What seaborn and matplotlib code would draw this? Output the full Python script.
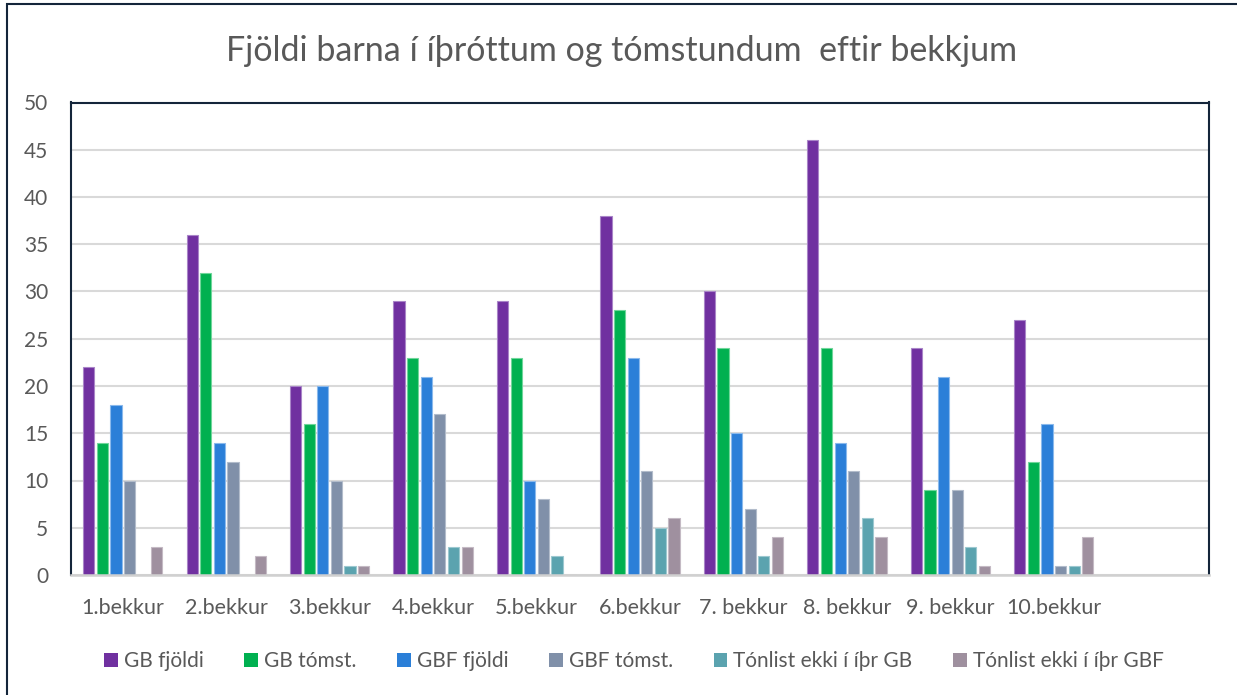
import matplotlib
matplotlib.use("Agg")
import matplotlib.pyplot as plt
import seaborn as sns
import pandas as pd
from matplotlib.patches import Rectangle

categories = ["1.bekkur", "2.bekkur", "3.bekkur", "4.bekkur", "5.bekkur",
              "6.bekkur", "7. bekkur", "8. bekkur", "9. bekkur", "10.bekkur"]
series_names = ["GB fjöldi", "GB tómst.", "GBF fjöldi", "GBF tómst.",
                "Tónlist ekki í íþr GB", "Tónlist ekki í íþr GBF"]
gb_fjoldi = [22, 36, 20, 29, 29, 38, 30, 46, 24, 27]
gb_tomst = [14, 32, 16, 23, 23, 28, 24, 24, 9, 12]
gbf_fjoldi = [18, 14, 20, 21, 10, 23, 15, 14, 21, 16]
gbf_tomst = [10, 12, 10, 17, 8, 11, 7, 11, 9, 1]
tonlist_gb = [0, 0, 1, 3, 2, 5, 2, 6, 3, 1]
tonlist_gbf = [3, 2, 1, 3, 0, 6, 4, 4, 1, 4]
yticks = [0, 5, 10, 15, 20, 25, 30, 35, 40, 45, 50]

colors = ["#7030A0", "#00B050", "#2B7FD8", "#8090A9", "#5BA3AF", "#9F909F"]
edge_colors = ["#A985C8", "#6FD69A", "#8AB9EC", "#B2BCCB", "#9CC8D0", "#C4BAC4"]

all_series = [gb_fjoldi, gb_tomst, gbf_fjoldi, gbf_tomst, tonlist_gb, tonlist_gbf]
rows = []
for name, vals in zip(series_names, all_series):
    for c, v in zip(categories, vals):
        rows.append({"bekkur": c, "series": name, "value": v})
df = pd.DataFrame(rows)

sns.set_style("white")
plt.rcParams["font.family"] = ["Lato", "DejaVu Sans"]
text_color = "#595959"

fig = plt.figure(figsize=(12.37, 6.95), dpi=100)
ax = fig.add_axes([71/1237, 1-575/695, (1209-71)/1237, (575-102.5)/695])

sns.barplot(data=df, x="bekkur", y="value", hue="series", order=categories,
            hue_order=series_names, palette=colors, width=0.79, gap=0.18,
            ax=ax, legend=True, saturation=1)

for cont, ec in zip(ax.containers, edge_colors):
    for bar in cont:
        bar.set_edgecolor(ec)
        bar.set_linewidth(0.8)

ax.set_xlim(-0.5, 10.5)
ax.set_ylim(0, 50)
ax.set_yticks(yticks)
ax.set_yticklabels([str(t) for t in yticks], fontsize=15, color=text_color)
ax.tick_params(axis="y", length=0, pad=16.5)
ax.tick_params(axis="x", length=0, pad=16.5, labelsize=15.5, labelcolor=text_color)
ax.set_xlabel("")
ax.set_ylabel("")
ax.yaxis.grid(True, color="#D9D9D9", linewidth=1.5)
ax.set_axisbelow(True)

for side in ["top", "left", "right"]:
    ax.spines[side].set_color("#14253A")
    ax.spines[side].set_linewidth(1.5)
ax.spines["bottom"].set_color("#D0D0D0")
ax.spines["bottom"].set_linewidth(1.8)

handles, labels = ax.get_legend_handles_labels()
ax.legend_.remove()
leg = fig.legend(handles, labels, loc="center", bbox_to_anchor=(634/1237, 1-661/695),
                 ncol=6, frameon=False, fontsize=15, handlelength=0.65,
                 handleheight=0.65, handletextpad=0.3, columnspacing=1.95)
for t in leg.get_texts():
    t.set_color(text_color)
for h in leg.legend_handles:
    h.set_edgecolor("none")

fig.text(622/1237, 1-51/695, "Fjöldi barna í íþróttum og tómstundum  eftir bekkjum",
         ha="center", va="center", fontsize=24.5, color=text_color)

fig.patches.append(Rectangle((7/1237, -0.05), 1.2, 1-4/695+0.05,
                             transform=fig.transFigure, fill=False,
                             edgecolor="#14253A", linewidth=1.5))

fig.savefig("out.png", dpi=100)
